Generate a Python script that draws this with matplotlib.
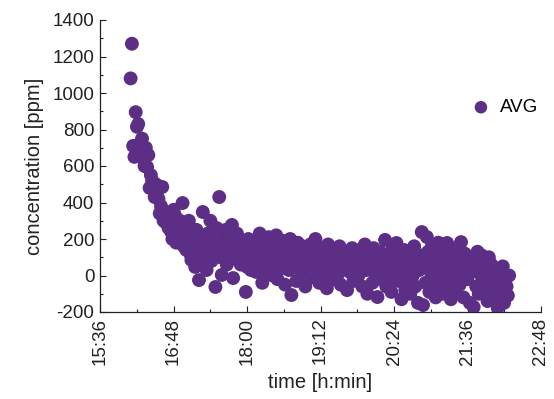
import matplotlib
matplotlib.use("Agg")
import matplotlib.pyplot as plt
from matplotlib.ticker import FuncFormatter, MultipleLocator
import numpy as np

plt.rcParams['font.family'] = ['Liberation Sans', 'DejaVu Sans']
plt.rcParams['axes.unicode_minus'] = False

# time axis: minutes since 15:36 (936 min after midnight)
axis_start_min = 936
first_sample_min = 30.0      # first measurement, minutes after 15:36
sample_step_min = 1.24       # sampling interval in minutes

avg_ppm = [
    1080, 1270, 710, 650, 895, 815, 830, 720, 690, 750,
    640, 600, 700, 595, 660, 480, 550, 520, 485, 430,
    500, 470, 420, 340, 380, 485, 300, 350, 288, 330,
    260, 310, 240, 200, 360, 330, 180, 270, 230, 300,
    210, 397, 160, 250, 140, 190, 300, 120, 85, 220,
    170, 47, 250, 130, -25, 200, 110, 348, 160, 90,
    30, 230, 140, 300, 80, 190, 120, -63, 260, 150,
    430, 100, 3, 200, 140, 250, 60, 180, 120, 210,
    277, -14, 150, 90, 230, 130, 190, 60, 110, 170,
    80, -90, 47, 200, 120, 30, 150, 90, 180, 20,
    160, 60, 230, 110, -40, 190, 80, 140, 20, 210,
    100, 170, 0, 130, 60, 220, -20, 150, 90, 40,
    190, 120, -50, 80, 160, 30, 200, -107, 100, 50,
    140, -30, 180, 70, 110, 10, 160, 60, -60, 120,
    90, 40, 170, -10, 130, 70, 200, 20, 100, -40,
    150, 60, 0, 120, 80, -70, 170, 30, 110, 50,
    -20, 140, 70, 100, 10, 160, -50, 90, 40, 120,
    60, -80, 130, 20, 100, 150, -30, 80, 40, 110,
    0, 140, 60, -60, 90, 170, 30, -100, 120, 50,
    80, -40, 150, 10, 100, -118, 60, 130, -20, 90,
    30, 195, -60, 110, 0, 70, -90, 150, 40, -20,
    178, 60, -30, 100, -130, 20, 140, -80, 80, -10,
    120, -100, 50, 0, 160, -60, 90, -150, 30, 110,
    238, -162, 70, -40, 211, 130, -90, 20, 160, -20,
    100, -120, 50, 180, -60, 130, 10, -100, 80, 150,
    178, -40, 60, -130, 110, 20, -80, 140, 0, 90,
    -50, 183, 30, -120, 120, 60, -20, 90, -150, 20,
    85, -173, 50, -60, 130, -100, 10, 112, -30, 70,
    -80, 40, -140, 100, -20, 60, -120, 10, -60, 30,
    -178, -36, 20, -90, 50, -150, -10, -60, -110, 0,
]

time_min = first_sample_min + sample_step_min * np.arange(len(avg_ppm))

x_ticks_min = [0, 72, 144, 216, 288, 360, 432]
y_ticks = [-200, 0, 200, 400, 600, 800, 1000, 1200, 1400]
series_label = "AVG"
color = '#5c2e86'

fig = plt.figure(figsize=(5.54, 3.99), dpi=100)
ax = fig.add_axes([100/554, 1-312/399, 441/554, 292/399])

ax.scatter(time_min, avg_ppm, s=100, color=color, edgecolors='none',
           label=series_label, zorder=3)

ax.set_xlim(0, 432)
ax.set_ylim(-200, 1400)
ax.set_xticks(x_ticks_min)
ax.xaxis.set_minor_locator(MultipleLocator(36))
ax.yaxis.set_minor_locator(MultipleLocator(100))
ax.set_yticks(y_ticks)

def fmt(v, pos):
    m = int(round(v)) + axis_start_min
    return f"{m // 60}:{m % 60:02d}"

ax.xaxis.set_major_formatter(FuncFormatter(fmt))
ax.tick_params(axis='x', labelrotation=90)
ax.tick_params(which='both', direction='in', color='#222222', width=0.8)
ax.tick_params(which='major', length=4, labelsize=13.5, colors='#222222', pad=4)
ax.tick_params(which='minor', length=2.5)

for s in ['top', 'right']:
    ax.spines[s].set_visible(False)
for s in ['left', 'bottom']:
    ax.spines[s].set_color('#222222')
    ax.spines[s].set_linewidth(0.9)

ax.set_xlabel("time [h:min]", fontsize=14.5, color='#222222', labelpad=6)
ax.set_ylabel("concentration [ppm]", fontsize=14.5, color='#222222', labelpad=6)

ax.legend(loc='center left', bbox_to_anchor=(0.80, 0.70), frameon=False,
          fontsize=13.5, markerscale=0.9, handletextpad=0.4, handlelength=1.2)

fig.savefig("out.png", dpi=100)
